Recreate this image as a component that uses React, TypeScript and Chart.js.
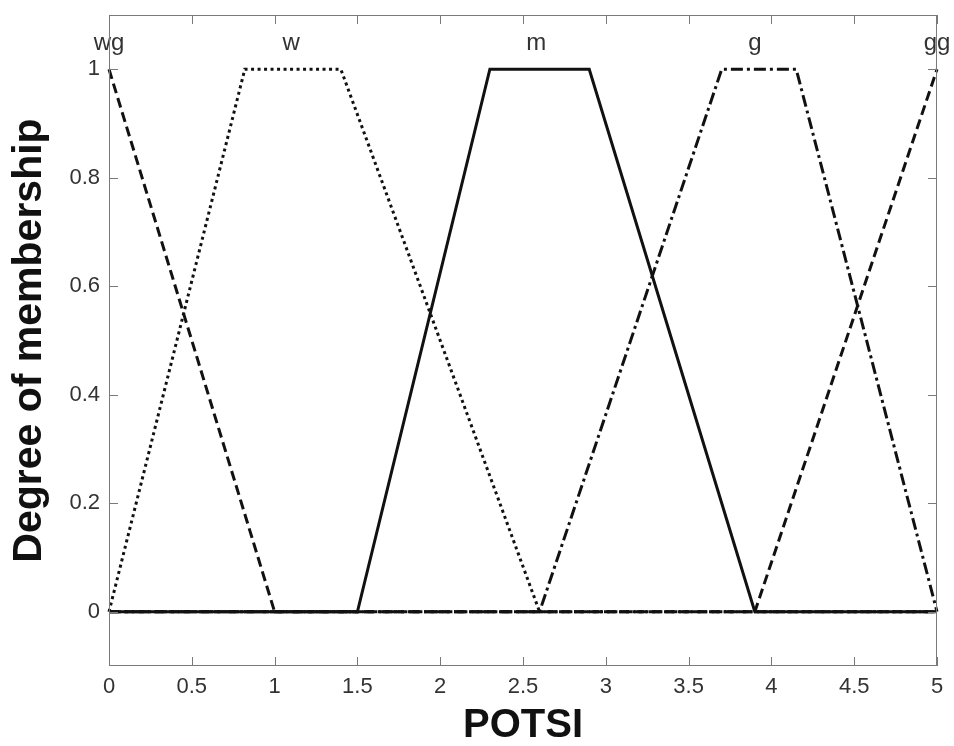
import React, { useEffect, useRef } from "react";
import { Chart, registerables } from "chart.js";

Chart.register(...registerables);

// Membership function names and label anchors
const mfNames = ["wg", "w", "m", "g", "gg"];
const labelX = [0, 1.1, 2.58, 3.9, 5];
const labelY = [1.035, 1.035, 1.035, 1.035, 1.035];

// Breakpoints of each membership function (x, degree)
const wgX = [0, 1, 5];
const wgY = [1, 0, 0];
const wX = [0, 0.82, 1.4, 2.6, 5];
const wY = [0, 1, 1, 0, 0];
const mX = [0, 1.5, 2.3, 2.9, 3.9, 5];
const mY = [0, 0, 1, 1, 0, 0];
const gX = [0, 2.6, 3.7, 4.15, 5];
const gY = [0, 0, 1, 1, 0];
const ggX = [0, 3.9, 5];
const ggY = [0, 0, 1];

// Tick values
const xTicks = [0, 0.5, 1, 1.5, 2, 2.5, 3, 3.5, 4, 4.5, 5];
const yTicks = [0, 0.2, 0.4, 0.6, 0.8, 1];

const toPts = (xs: number[], ys: number[]) => xs.map((x, i) => ({ x, y: ys[i] }));

const boxPlugin = {
  id: "matlabBox",
  afterDatasetsDraw(chart: any) {
    const { ctx, chartArea, scales } = chart;
    const { left, right, top, bottom } = chartArea;
    ctx.save();
    // labels
    ctx.fillStyle = "#333";
    ctx.font = "24px 'Liberation Sans', Arial, sans-serif";
    ctx.textAlign = "center";
    ctx.textBaseline = "alphabetic";
    mfNames.forEach((n, i) => {
      ctx.fillText(n, scales.x.getPixelForValue(labelX[i]), scales.y.getPixelForValue(labelY[i]));
    });
    // box
    ctx.strokeStyle = "#7a7a7a";
    ctx.lineWidth = 1;
    ctx.strokeRect(left + 0.5, top + 0.5, right - left - 1, bottom - top - 1);
    const tl = 9;
    ctx.beginPath();
    xTicks.forEach((v) => {
      const px = Math.round(scales.x.getPixelForValue(v)) + 0.5;
      ctx.moveTo(px, bottom);
      ctx.lineTo(px, bottom - tl);
      ctx.moveTo(px, top);
      ctx.lineTo(px, top + tl);
    });
    yTicks.forEach((v) => {
      const py = Math.round(scales.y.getPixelForValue(v)) + 0.5;
      ctx.moveTo(left, py);
      ctx.lineTo(left + tl, py);
      ctx.moveTo(right, py);
      ctx.lineTo(right - tl, py);
    });
    ctx.stroke();
    ctx.restore();
  },
};

export default function App() {
  const ref = useRef<HTMLCanvasElement | null>(null);
  useEffect(() => {
    if (!ref.current) return;
    const base = { borderColor: "#111", borderWidth: 3, pointRadius: 0, tension: 0, clip: false as any, fill: false };
    const chart = new Chart(ref.current, {
      type: "line",
      data: {
        datasets: [
          { ...base, label: "wg", data: toPts(wgX, wgY), borderDash: [10, 5] },
          { ...base, label: "w", data: toPts(wX, wY), borderDash: [3, 3.5] },
          { ...base, label: "m", data: toPts(mX, mY) },
          { ...base, label: "g", data: toPts(gX, gY), borderDash: [12, 4, 3, 4] },
          { ...base, label: "gg", data: toPts(ggX, ggY), borderDash: [10, 5] },
        ],
      },
      options: {
        animation: false,
        responsive: false,
        devicePixelRatio: 1,
        layout: { padding: { left: 0, right: 17, top: 15, bottom: 0 } },
        plugins: { legend: { display: false }, tooltip: { enabled: false } },
        scales: {
          x: {
            type: "linear",
            min: 0,
            max: 5,
            grid: { display: false, drawTicks: false },
            border: { display: false },
            afterBuildTicks: (s: any) => {
              s.ticks = xTicks.map((v) => ({ value: v }));
            },
            afterFit: (s: any) => {
              s.height = 80;
              s.paddingLeft = 0;
              s.paddingRight = 0;
            },
            ticks: {
              padding: 8,
              color: "#333",
              font: { family: "'Liberation Sans', Arial, sans-serif", size: 22 },
              callback: (v: any) => String(v),
              maxRotation: 0,
              autoSkip: false,
            },
            title: {
              display: true,
              text: "POTSI",
              color: "#111",
              font: { family: "'Liberation Sans', Arial, sans-serif", size: 40, weight: "bold", lineHeight: 1 },
              padding: { top: 0, bottom: 0 },
            },
          },
          y: {
            type: "linear",
            min: -0.1,
            max: 1.1,
            grid: { display: false, drawTicks: false },
            border: { display: false },
            afterBuildTicks: (s: any) => {
              s.ticks = yTicks.map((v) => ({ value: v }));
            },
            afterFit: (s: any) => {
              s.width = 109;
              s.paddingTop = 0;
              s.paddingBottom = 0;
            },
            ticks: {
              padding: 9,
              color: "#333",
              font: { family: "'Liberation Sans', Arial, sans-serif", size: 22 },
              callback: (v: any) => String(v),
              autoSkip: false,
            },
            title: {
              display: true,
              text: "Degree of membership",
              color: "#111",
              font: { family: "'Liberation Sans', Arial, sans-serif", size: 41, weight: "bold", lineHeight: 1 },
              padding: { top: 9, bottom: 0 },
            },
          },
        },
      },
      plugins: [boxPlugin],
    });
    return () => chart.destroy();
  }, []);
  return (
    <div style={{ position: "fixed", left: 0, top: 0, width: 954, height: 746, background: "#fff" }}>
      <canvas ref={ref} width={954} height={746} style={{ width: 954, height: 746, display: "block" }} />
    </div>
  );
}
